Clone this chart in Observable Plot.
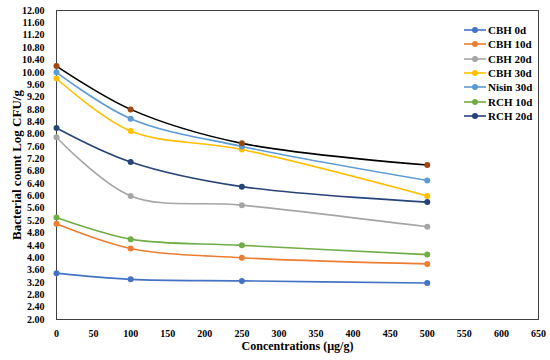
<!DOCTYPE html>
<html>
<head>
<meta charset="utf-8">
<script src="https://cdn.jsdelivr.net/npm/d3@7"></script>
<script src="https://cdn.jsdelivr.net/npm/@observablehq/plot@0.6"></script>
<style>
  html, body { margin: 0; padding: 0; background: #fff; }
  #wrap { position: relative; width: 550px; height: 360px; }
  #legend { position: absolute; left: 464px; top: 23px; font: bold 11px "Liberation Serif", serif; color: #000; }
  .item { display: flex; align-items: center; height: 14.3px; }
  .item svg { margin-right: 2px; }
</style>
</head>
<body>
<div id="wrap"><div id="legend"></div></div>
<script>
const concentrations = [0, 100, 250, 500];
const seriesNames = ["CBH 0d", "CBH 10d", "CBH 20d", "CBH 30d", "Nisin 30d", "RCH 10d", "RCH 20d", "Series 8"];
const cbh0d   = [3.50, 3.30, 3.25, 3.18];
const cbh10d  = [5.10, 4.30, 4.00, 3.80];
const cbh20d  = [7.90, 6.00, 5.70, 5.00];
const cbh30d  = [9.80, 8.10, 7.50, 6.00];
const nisin30d = [10.00, 8.50, 7.60, 6.50];
const rch10d  = [5.30, 4.60, 4.40, 4.10];
const rch20d  = [8.20, 7.10, 6.30, 5.80];
const series8 = [10.20, 8.80, 7.70, 7.00];
const lineColors   = ["#4472C4", "#ED7D31", "#A5A5A5", "#FFC000", "#5B9BD5", "#70AD47", "#264478", "#000000"];
const markerColors = ["#4472C4", "#ED7D31", "#A5A5A5", "#FFC000", "#5B9BD5", "#70AD47", "#264478", "#9E480E"];
const legendCount = 7;
const yTicks = d3.range(2, 12.0001, 0.4).map(v => +v.toFixed(2));
const xTicks = d3.range(0, 651, 50);

const allValues = [cbh0d, cbh10d, cbh20d, cbh30d, nisin30d, rch10d, rch20d, series8];
const data = [];
allValues.forEach((vals, i) => {
  vals.forEach((v, j) => data.push({series: seriesNames[i], x: concentrations[j], y: v}));
});

const font = "Liberation Serif, serif";
const chart = Plot.plot({
  width: 550,
  height: 360,
  marginLeft: 56,
  marginRight: 12,
  marginTop: 10,
  marginBottom: 41,
  style: {fontFamily: font, fontSize: "10px", fontWeight: "bold", color: "#000", background: "#fff"},
  x: {domain: [0, 650]},
  y: {domain: [2, 12]},
  color: {domain: seriesNames, range: lineColors},
  marks: [
    Plot.frame({stroke: "#404040", strokeWidth: 1}),
    Plot.axisX({ticks: xTicks, tickSize: 0, tickPadding: 10, tickFormat: d => d,
      label: "Concentrations (µg/g)", labelAnchor: "center", labelOffset: 30, labelArrow: "none", fontSize: 10}),
    Plot.axisY({ticks: yTicks, tickSize: 0, tickPadding: 12, tickFormat: d3.format(".2f"),
      label: "Bacterial count Log CFU/g", labelAnchor: "center", labelOffset: 45, labelArrow: "none", fontSize: 10}),
    ...seriesNames.map((s, i) => Plot.line(data.filter(d => d.series === s), {
      x: "x", y: "y", stroke: lineColors[i], strokeWidth: 1.6, curve: "catmull-rom"
    })),
    ...seriesNames.map((s, i) => Plot.dot(data.filter(d => d.series === s), {
      x: "x", y: "y", r: 3, fill: markerColors[i], stroke: null
    }))
  ]
});
d3.select(chart).selectAll("g[aria-label='x-axis label'] text").style("font-size", "12px");
d3.select(chart).selectAll("g[aria-label='y-axis label'] text").style("font-size", "13px");
document.getElementById("wrap").prepend(chart);

const legend = document.getElementById("legend");
seriesNames.slice(0, legendCount).forEach((s, i) => {
  const div = document.createElement("div");
  div.className = "item";
  div.innerHTML = `<svg width="22" height="8"><line x1="0" x2="22" y1="4" y2="4" stroke="${lineColors[i]}" stroke-width="1.6"/><circle cx="11" cy="4" r="3" fill="${markerColors[i]}"/></svg><span>${s}</span>`;
  legend.appendChild(div);
});
</script>
</body>
</html>
